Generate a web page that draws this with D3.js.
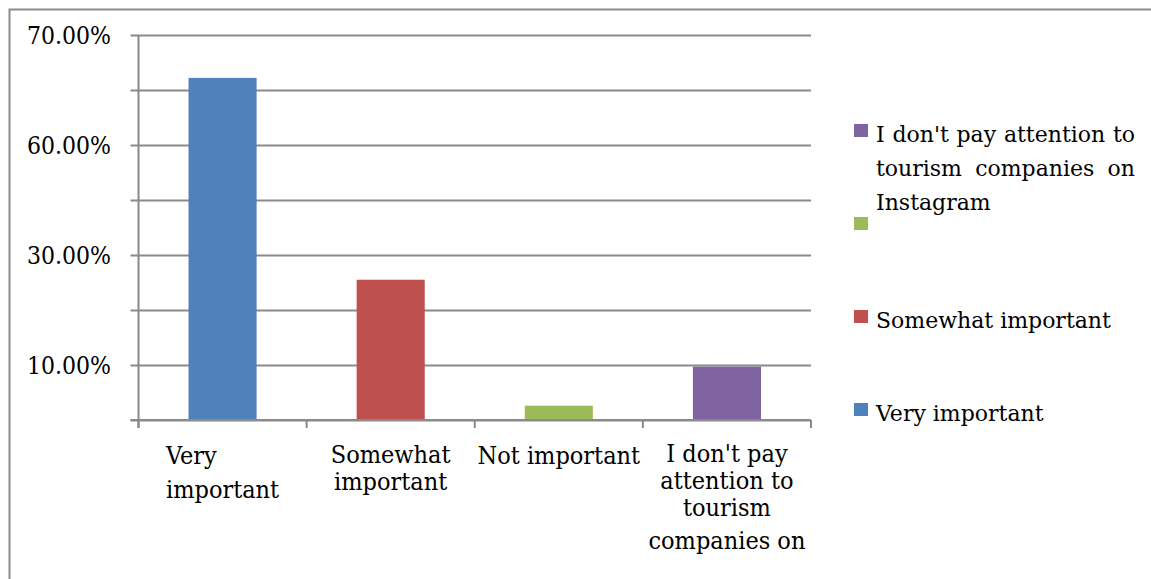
<!DOCTYPE html>
<html>
<head>
<meta charset="utf-8">
<script src="https://cdn.jsdelivr.net/npm/d3@7"></script>
<style>
  html, body { margin: 0; padding: 0; background: #fff; }
  svg { display: block; }
  text { font-family: "DejaVu Serif", "Liberation Serif", serif; fill: #000; }
</style>
</head>
<body>
<svg id="chart" width="1151" height="579"></svg>
<script>
// Survey answers and their shares
const categories = ["Very important", "Somewhat important", "Not important", "I don't pay attention to tourism companies on Instagram"];
const values = [0.622, 0.255, 0.026, 0.097];
const colors = ["#4F81BD", "#C0504D", "#9BBB59", "#8064A2"];

// Category labels as they wrap under the axis
const xLabelLines = [
  ["Very", "important"],
  ["Somewhat", "important"],
  ["Not important"],
  ["I don't pay", "attention to", "tourism", "companies on"]
];

// Value axis: gridlines every 10 %, labelled gridlines below
const gridValues = [0, 0.1, 0.2, 0.3, 0.4, 0.5, 0.6, 0.7];
const tickValues = [0.1, 0.3, 0.5, 0.7];
const tickLabels = ["10.00%", "30.00%", "60.00%", "70.00%"];

// Legend entries, listed top to bottom
const legendLabels = [
  ["I don't pay attention to", "tourism companies on", "Instagram"],
  [],
  ["Somewhat important"],
  ["Very important"]
];
const legendOrder = [3, 2, 1, 0];

const svg = d3.select("#chart");
const gridColor = "#8a8a8a";
const condensed = "'DejaVu Serif Condensed', 'DejaVu Serif', serif";

// outer frame (open to the right and bottom)
svg.append("path")
  .attr("d", "M9.5,600 V9.5 H1160")
  .attr("fill", "none")
  .attr("stroke", "#8c8c8c")
  .attr("stroke-width", 2);

const plot = { left: 138.5, right: 811, top: 35, bottom: 420 };

const x = d3.scaleBand()
  .domain(categories)
  .range([plot.left, plot.right])
  .paddingInner(0.595)
  .paddingOuter(0.2975);

const y = d3.scaleLinear()
  .domain([0, 0.7])
  .range([plot.bottom, plot.top]);

// horizontal gridlines with short outward ticks
const grid = svg.append("g")
  .attr("transform", `translate(${plot.left},0)`)
  .call(d3.axisLeft(y).tickValues(gridValues).tickSize(-(plot.right - plot.left)).tickSizeOuter(0).tickFormat(""));
grid.select(".domain").remove();
grid.selectAll(".tick line")
  .attr("x1", -8)
  .attr("stroke", gridColor)
  .attr("stroke-width", 2);

// y tick labels
const yLab = svg.append("g");
tickValues.forEach((v, i) => {
  yLab.append("text")
    .attr("x", 111)
    .attr("y", y(v))
    .attr("dy", "0.36em")
    .attr("text-anchor", "end")
    .style("font-family", condensed)
    .style("font-size", "24.5px")
    .text(tickLabels[i]);
});

// y axis line
svg.append("line")
  .attr("x1", plot.left).attr("x2", plot.left)
  .attr("y1", plot.top).attr("y2", plot.bottom + 8)
  .attr("stroke", gridColor).attr("stroke-width", 2);

// x axis line and category boundary ticks
const bounds = d3.range(categories.length + 1).map(i => plot.left + i * (plot.right - plot.left) / categories.length);
svg.append("line")
  .attr("x1", plot.left - 8).attr("x2", plot.right)
  .attr("y1", plot.bottom).attr("y2", plot.bottom)
  .attr("stroke", gridColor).attr("stroke-width", 2);
svg.selectAll("line.xtick").data(bounds).join("line")
  .attr("class", "xtick")
  .attr("x1", d => d).attr("x2", d => d)
  .attr("y1", plot.bottom).attr("y2", plot.bottom + 8)
  .attr("stroke", gridColor).attr("stroke-width", 2);

// bars
svg.selectAll("rect.bar").data(categories).join("rect")
  .attr("class", "bar")
  .attr("x", d => x(d))
  .attr("width", x.bandwidth())
  .attr("y", (d, i) => y(values[i]))
  .attr("height", (d, i) => plot.bottom - y(values[i]) - 1)
  .attr("fill", (d, i) => colors[i]);

// category labels
const lineBaselines = [
  [464, 498],
  [463, 490],
  [464],
  [462, 489, 516, 549]
];
categories.forEach((c, i) => {
  const cx = x(c) + x.bandwidth() / 2;
  const g = svg.append("g");
  const lines = xLabelLines[i];
  const texts = lines.map((t, j) => g.append("text")
    .attr("x", cx)
    .attr("y", lineBaselines[i][j])
    .attr("text-anchor", "middle")
    .style("font-family", condensed)
    .style("font-size", "25px")
    .text(t));
  if (i === 0) {
    // first label is left-aligned within its block
    const widths = texts.map(t => t.node().getComputedTextLength());
    const left = cx - d3.max(widths) / 2;
    texts.forEach(t => t.attr("text-anchor", "start").attr("x", left));
  }
});

// legend
const legendTops = [124, 217, 310, 403];
const legend = svg.append("g");
legendOrder.forEach((ci, k) => {
  const top = legendTops[k];
  legend.append("rect")
    .attr("x", 854).attr("y", top)
    .attr("width", 14).attr("height", 13)
    .attr("fill", colors[ci]);
  const lines = legendLabels[k];
  lines.forEach((t, j) => {
    const txt = legend.append("text")
      .attr("x", 876)
      .attr("y", top + 18 + j * 34)
      .style("font-size", "22px")
      .text(t);
    // wrapped lines are justified to the legend width
    if (lines.length > 1 && j < lines.length - 1) {
      const w = txt.node().getComputedTextLength();
      const gaps = t.split(" ").length - 1;
      const target = 1135 - 876;
      if (gaps > 0 && w < target) txt.style("word-spacing", ((target - w) / gaps) + "px");
    }
  });
});
</script>
</body>
</html>
